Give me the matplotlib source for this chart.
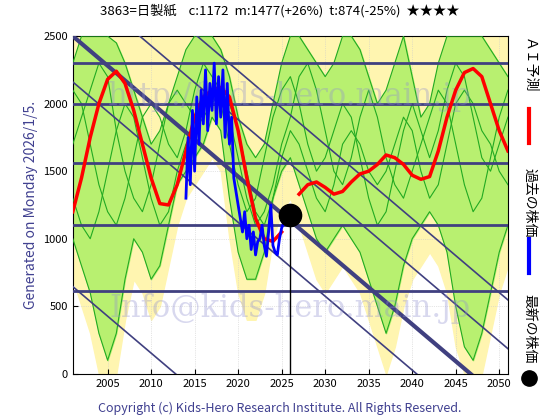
import numpy as np
import matplotlib.pyplot as plt

plt.rcParams['font.family'] = ['Noto Sans CJK JP', 'DejaVu Sans']

years = np.arange(2001, 2052)
ai_pred = [1200, 1450, 1750, 2000, 2180, 2240, 2150, 1950, 1700, 1450, 1260, 1250, 1400, 1650, 1900, 2050,
           2100, 2120, 2050, 1800, 1450, 1150, 1000, 980, 1050, np.nan, 1330, 1400, 1420, 1380, 1330,
           1350, 1420, 1480, 1500, 1550, 1620, 1600, 1550, 1470, 1440, 1460, 1650, 1900, 2100, 2230,
           2260, 2200, 2000, 1800, 1650]
green_lo = [1000, 800, 600, 300, 100, 300, 700, 1000, 900, 700, 800, 1100, 1400, 1500, 1600, 1700,
            1900, 1800, 1300, 900, 700, 700, 900, 1300, 1500, 1600, 1400, 1200, 1000, 900, 1000,
            1100, 1000, 900, 700, 500, 300, 500, 800, 1000, 1100, 1200, 1100, 900, 500, 200,
            100, 300, 600, 900, 1100]
green_hi = [2300, 2500, 2500, 2500, 2500, 2450, 2300, 2100, 1900, 1700, 1800, 2000, 2200, 2400, 2500, 2500,
            2500, 2400, 2200, 1900, 1700, 1600, 1700, 2000, 2300, 2500, 2500, 2400, 2300, 2200, 2300,
            2500, 2500, 2400, 2200, 2000, 2100, 2300, 2500, 2200, 1900, 2000, 2300, 2500, 2500, 2500,
            2500, 2500, 2400, 2300, 2200]
yellow_lo = [700, 500, 300, 0, 0, 0, 400, 700, 600, 400, 500, 800, 1100, 1300, 1400, 1500,
             1600, 1500, 1000, 600, 400, 400, 600, 1000, 1200, 1300, 1100, 900, 700, 600, 700,
             800, 700, 600, 400, 200, 0, 200, 500, 700, 800, 900, 800, 600, 200, 0,
             0, 0, 300, 600, 800]
green_l1 = [1700, 1900, 2100, 2300, 2200, 1800, 1500, 1300, 1200, 1400, 1700, 2000, 2100, 2000, 1900, 2000,
            2100, 2000, 1700, 1400, 1200, 1300, 1600, 1900, 2100, 2200, 2000, 1700, 1500, 1600, 1800,
            2000, 1900, 1600, 1300, 1100, 1200, 1500, 1800, 2000, 1800, 1600, 1800, 2100, 2300, 2200,
            1900, 1600, 1500, 1700, 1900]
green_l2 = [2100, 2000, 1700, 1400, 1200, 1100, 1300, 1600, 1900, 2000, 1900, 1700, 1600, 1800, 2100, 2300,
            2200, 2100, 1900, 1600, 1300, 1100, 1200, 1400, 1700, 1900, 2200, 2300, 2100, 1800, 1500,
            1400, 1600, 1900, 2100, 1900, 1600, 1400, 1300, 1500, 1700, 1900, 2100, 2000, 1700, 1400,
            1200, 1300, 1600, 1900, 2100]
green_l3 = [1300, 1100, 1000, 1200, 1500, 1800, 2000, 1900, 1600, 1300, 1100, 1200, 1500, 1700, 1800, 1900,
            2000, 2100, 2000, 1800, 1500, 1200, 1100, 1300, 1600, 1800, 1700, 1500, 1300, 1200, 1400,
            1700, 1800, 1700, 1500, 1400, 1500, 1700, 1900, 1800, 1500, 1300, 1400, 1700, 2000, 2100,
            2000, 1800, 1700, 1500, 1400]

past_t = np.arange(2014.0, 2026.0, 0.25)
past_p = [1300, 1750, 1400, 1950, 1500, 2050, 1700, 2100, 1850, 2250, 1800, 2150,
          1950, 2300, 1850, 2200, 1900, 2250, 1750, 2150, 1700, 1900, 1450, 1350,
          1250, 1150, 1050, 1200, 1000, 1100, 920, 1050, 880, 980, 1000, 1100,
          950, 870, 1050, 1250, 950, 900, 880, 1000, 1080, 1120, 1150, 1172]

now_t, now_p = 2026, 1172
hlines = [610, 1100, 1560, 2000, 2300]
diag_zero = [2012.8, 2040.5, 2046.7, 2054.4, 2061.0]
slope = 54.7

fig = plt.figure(figsize=(5.6, 4.2), dpi=100)
ax = fig.add_axes([0.130, 0.110, 0.777, 0.804])
ax.set_xlim(2001, 2051)
ax.set_ylim(0, 2500)

ax.fill_between(years, yellow_lo, 2500, color='#fff5b0', zorder=1)
ax.fill_between(years, green_lo, green_hi, color='#b8f070', zorder=2)
for s in (green_l1, green_l2, green_l3):
    ax.plot(years, s, color='#22aa22', lw=0.8, zorder=3)
ax.plot(years, green_lo, color='#22aa22', lw=0.8, zorder=3)
ax.plot(years, green_hi, color='#22aa22', lw=0.8, zorder=3)

for h in hlines:
    ax.axhline(h, color='#404080', lw=2, zorder=4)
xx = np.array([2001, 2051])
for c in diag_zero:
    ax.plot(xx, slope * (c - xx), color='#404080', lw=3 if c == 2046.7 else 1.2, zorder=4)

ax.text(2026, 2050, 'http://kids-hero.main.jp', color='#9090d0', alpha=0.35, fontsize=22,
        ha='center', va='center', family='serif', zorder=5)
ax.text(2026, 480, 'Info@kids-hero.main.jp', color='#9090d0', alpha=0.35, fontsize=22,
        ha='center', va='center', family='serif', zorder=5)

ax.plot(years, ai_pred, color='red', lw=2.5, zorder=6)
ax.plot(past_t, past_p, color='blue', lw=2, zorder=7)
ax.plot([now_t, now_t], [0, now_p], color='black', lw=1, zorder=7)
ax.plot(now_t, now_p, 'o', color='black', ms=16, zorder=8)

ax.set_xticks(np.arange(2005, 2051, 5))
ax.set_yticks(np.arange(0, 2501, 500))
ax.tick_params(labelsize=8, direction='in')
ax.grid(True, color='#cccccc', lw=0.5, ls=':')
ax.set_ylabel('Generated on Monday 2026/1/5.', color='#404090', fontsize=10)
fig.text(0.5, 0.965, '3863=日製紙    c:1172  m:1477(+26%)  t:874(-25%)  ★★★★',
         ha='center', fontsize=9.5)
fig.text(0.5, 0.02, 'Copyright (c) Kids-Hero Research Institute. All Rights Reserved.',
         ha='center', color='#404090', fontsize=9)

# right-side legend
fig.text(0.945, 0.91, 'ＡＩ予測', rotation=-90, va='top', ha='center', fontsize=10)
fig.add_artist(plt.Line2D([0.945, 0.945], [0.66, 0.74], color='red', lw=3))
fig.text(0.945, 0.60, '過去の株価', rotation=-90, va='top', ha='center', fontsize=10)
fig.add_artist(plt.Line2D([0.945, 0.945], [0.35, 0.43], color='blue', lw=3))
fig.text(0.945, 0.30, '最新の株価', rotation=-90, va='top', ha='center', fontsize=10)
fig.add_artist(plt.Line2D([0.945], [0.10], marker='o', color='black', ms=11))

fig.savefig('out.png')
